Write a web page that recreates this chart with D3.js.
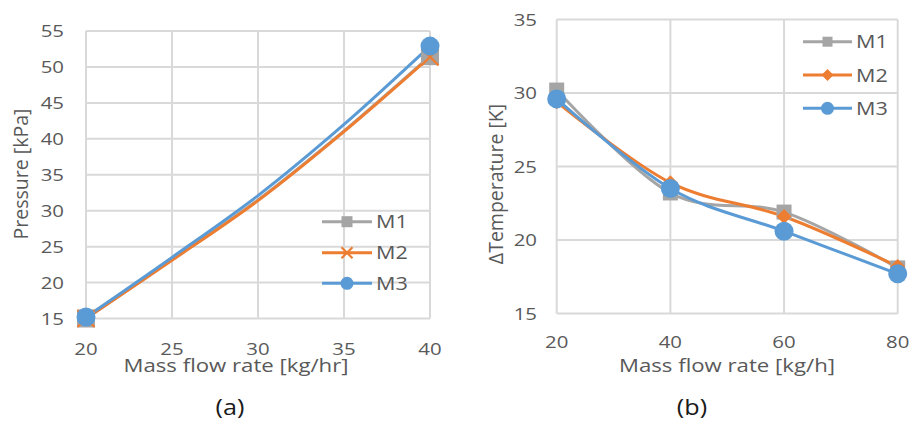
<!DOCTYPE html>
<html><head><meta charset="utf-8">
<script src="https://cdn.jsdelivr.net/npm/d3@7"></script>
<style>
html,body{margin:0;padding:0;background:#fff;}
text{font-family:"Open Sans","Noto Sans",sans-serif;fill:#595959;}
</style></head>
<body>
<svg id="c" width="913" height="426"></svg>
<script>
// ---- Data: chart (a) Pressure vs mass flow rate ----
const aX = [20, 25, 30, 35, 40];
const aM1 = [15.0, 23.2, 31.5, 41.1, 51.5];
const aM2 = [15.0, 23.1, 31.4, 41.0, 51.4];
const aM3 = [15.2, 23.5, 32.1, 42.0, 52.9];
const aMarkerIdx = [0, 4];
const aXTicks = [20, 25, 30, 35, 40];
const aYTicks = [15, 20, 25, 30, 35, 40, 45, 50, 55];

// ---- Data: chart (b) ΔTemperature vs mass flow rate ----
const bX = [20, 40, 60, 80];
const bM1 = [30.2, 23.2, 21.9, 18.1];
const bM2 = [29.4, 23.9, 21.6, 18.2];
const bM3 = [29.6, 23.5, 20.6, 17.7];
const bXTicks = [20, 40, 60, 80];
const bYTicks = [15, 20, 25, 30, 35];

const seriesNames = ["M1", "M2", "M3"];
const colors = {M1: "#A5A5A5", M2: "#ED7D31", M3: "#5B9BD5"};

const svg = d3.select("#c");
const grid = "#D9D9D9";
const SX = 1.2; // horizontal stretch of the reference's lettering

function stext(g, x, y, str, size, anchor, fill) {
  return g.append("text")
    .attr("transform", `translate(${x},${y}) scale(${SX},1)`)
    .attr("text-anchor", anchor || "start")
    .style("font-size", size + "px")
    .style("fill", fill || "#595959")
    .text(str);
}

function marker(g, type, x, y, size, color) {
  if (type === "square") {
    g.append("rect").attr("x", x - size/2).attr("y", y - size/2)
      .attr("width", size).attr("height", size).attr("fill", color);
  } else if (type === "circle") {
    g.append("circle").attr("cx", x).attr("cy", y).attr("r", size/2).attr("fill", color);
  } else if (type === "diamond") {
    const h = size/2;
    g.append("path").attr("d", `M${x},${y-h}L${x+h},${y}L${x},${y+h}L${x-h},${y}Z`).attr("fill", color);
  } else if (type === "x") {
    const h = size/2;
    g.append("path").attr("d", `M${x-h},${y-h}L${x+h},${y+h}M${x-h},${y+h}L${x+h},${y-h}`)
      .attr("stroke", color).attr("stroke-width", 2.2).attr("fill", "none");
  }
}

function drawChart(o) {
  const g = svg.append("g");
  const x = d3.scaleLinear().domain(o.xDomain).range([o.left, o.right]);
  const y = d3.scaleLinear().domain(o.yDomain).range([o.bottom, o.top]);

  // gridlines
  g.selectAll(".gy").data(o.yTicks).join("line")
    .attr("x1", o.left).attr("x2", o.right)
    .attr("y1", d => y(d)).attr("y2", d => y(d))
    .attr("stroke", grid).attr("stroke-width", 2);
  g.selectAll(".gx").data(o.xTicks).join("line")
    .attr("y1", o.top).attr("y2", o.bottom)
    .attr("x1", d => x(d)).attr("x2", d => x(d))
    .attr("stroke", grid).attr("stroke-width", 2);

  // tick labels
  o.yTicks.forEach(d => stext(g, o.yLabelX, y(d) + 6, d, 17, "end"));
  o.xTicks.forEach(d => stext(g, x(d), o.xLabelY, d, 17, "middle"));

  // axis titles
  stext(g, o.xTitleX, 372, o.xTitle, 18.5, "middle");
  g.append("text").attr("transform", `translate(${o.yTitleX},${o.yTitleY}) rotate(-90)`)
    .attr("text-anchor", "middle").style("font-size", "19.5px").text(o.yTitle);
  stext(g, o.capX, 415, o.caption, 21, "middle", "#1a1a1a");

  // series
  const line = d3.line().x(d => x(d[0])).y(d => y(d[1])).curve(d3.curveCardinal.tension(0));
  o.series.forEach(s => {
    const pts = o.xs.map((xv, i) => [xv, s.values[i]]);
    g.append("path").datum(pts).attr("d", line).attr("fill", "none")
      .attr("stroke", colors[s.name]).attr("stroke-width", 3).attr("stroke-linejoin", "round");
  });
  o.series.forEach(s => {
    const idx = o.markerIdx || o.xs.map((_, i) => i);
    idx.forEach(i => marker(g, s.marker, x(o.xs[i]), y(s.values[i]), s.size, colors[s.name]));
  });

  // legend
  o.series.forEach((s, i) => {
    const ly = o.legY[i];
    g.append("line").attr("x1", o.legX0).attr("x2", o.legX1).attr("y1", ly).attr("y2", ly)
      .attr("stroke", colors[s.name]).attr("stroke-width", 3);
    marker(g, s.marker, (o.legX0 + o.legX1) / 2, ly, s.legSize, colors[s.name]);
    stext(g, o.legX1 + 4, ly + 6.5, s.name, 18, "start");
  });
}

drawChart({
  xDomain: [20, 40], yDomain: [15, 55],
  left: 86, right: 430, top: 31, bottom: 318.5,
  xTicks: aXTicks, yTicks: aYTicks, xs: aX, markerIdx: aMarkerIdx,
  yLabelX: 64, xLabelY: 355,
  xTitle: "Mass flow rate [kg/hr]", xTitleX: 236,
  yTitle: "Pressure [kPa]", yTitleX: 28, yTitleY: 174,
  caption: "(a)", capX: 230,
  series: [
    {name: "M1", values: aM1, marker: "square", size: 18, legSize: 11},
    {name: "M2", values: aM2, marker: "x", size: 17, legSize: 11},
    {name: "M3", values: aM3, marker: "circle", size: 19, legSize: 13}
  ],
  legX0: 322, legX1: 372, legY: [221.7, 252.7, 283.3]
});

drawChart({
  xDomain: [20, 80], yDomain: [15, 35],
  left: 556.7, right: 897.7, top: 19.5, bottom: 313.5,
  xTicks: bXTicks, yTicks: bYTicks, xs: bX,
  yLabelX: 537, xLabelY: 348,
  xTitle: "Mass flow rate [kg/h]", xTitleX: 727,
  yTitle: "ΔTemperature [K]", yTitleX: 503, yTitleY: 184,
  caption: "(b)", capX: 692,
  series: [
    {name: "M1", values: bM1, marker: "square", size: 15, legSize: 10},
    {name: "M2", values: bM2, marker: "diamond", size: 15, legSize: 12},
    {name: "M3", values: bM3, marker: "circle", size: 19, legSize: 13}
  ],
  legX0: 803, legX1: 852, legY: [41.7, 75, 108.3]
});
</script>
</body></html>
